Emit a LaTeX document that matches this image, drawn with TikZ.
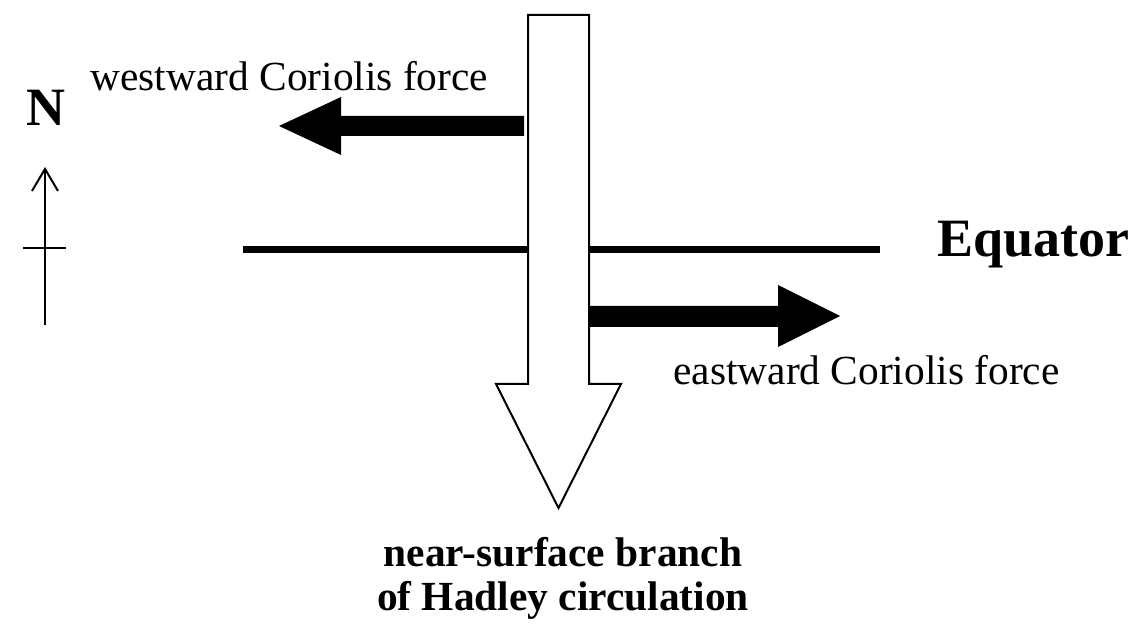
\documentclass[tikz,border=0pt]{standalone}
\usepackage{fontspec}
\setmainfont{Liberation Serif}
\usepackage{tikz}
\usetikzlibrary{arrows.meta}

\begin{document}
\begin{tikzpicture}[x=0.5pt,y=-0.5pt,
  label/.style={inner sep=0pt, font=\fontsize{20.7}{21.5}\selectfont},
  biglabel/.style={inner sep=0pt, font=\fontsize{27}{30}\selectfont\bfseries}]
\useasboundingbox (0,0) rectangle (1145,640);

% north pointer
\coordinate (s0) at (45,325);
\coordinate (s1) at (45,167);
\draw[line width=1pt, -{Straight Barb[length=11pt,width=13pt]}] (s0) -- (s1);
\draw[line width=1pt] (23,248) -- (66,248);
\node[biglabel] (north) at (46,108) {N};

% equator
\coordinate (e0) at (243,249.5);
\coordinate (e1) at (880,249.5);
\draw[line width=3.5pt] (e0) -- (e1);
\node[biglabel, anchor=base west] (equator) at (937,257) {Equator};

% hadley branch
\draw[line width=1pt, fill=white] (528,15) -- (589,15) -- (589,384) -- (621,384)
  -- (558.5,508) -- (496,384) -- (528,384) -- cycle;
\node[label, font=\fontsize{20.7}{21.5}\selectfont\bfseries, align=center, anchor=base] (hadley) at (563,610)
  {near-surface branch\\of Hadley circulation};

% coriolis forces
\fill (524,116) -- (341,116) -- (341,97) -- (279,126) -- (341,155) -- (341,136) -- (524,136) -- cycle;
\node[label, anchor=base west] (west) at (90,91) {westward Coriolis force};
\fill (589,306) -- (778,306) -- (778,285) -- (840,316) -- (778,347) -- (778,327) -- (589,327) -- cycle;
\node[label, anchor=base west] (east) at (673,385) {eastward Coriolis force};

\end{tikzpicture}
\end{document}
